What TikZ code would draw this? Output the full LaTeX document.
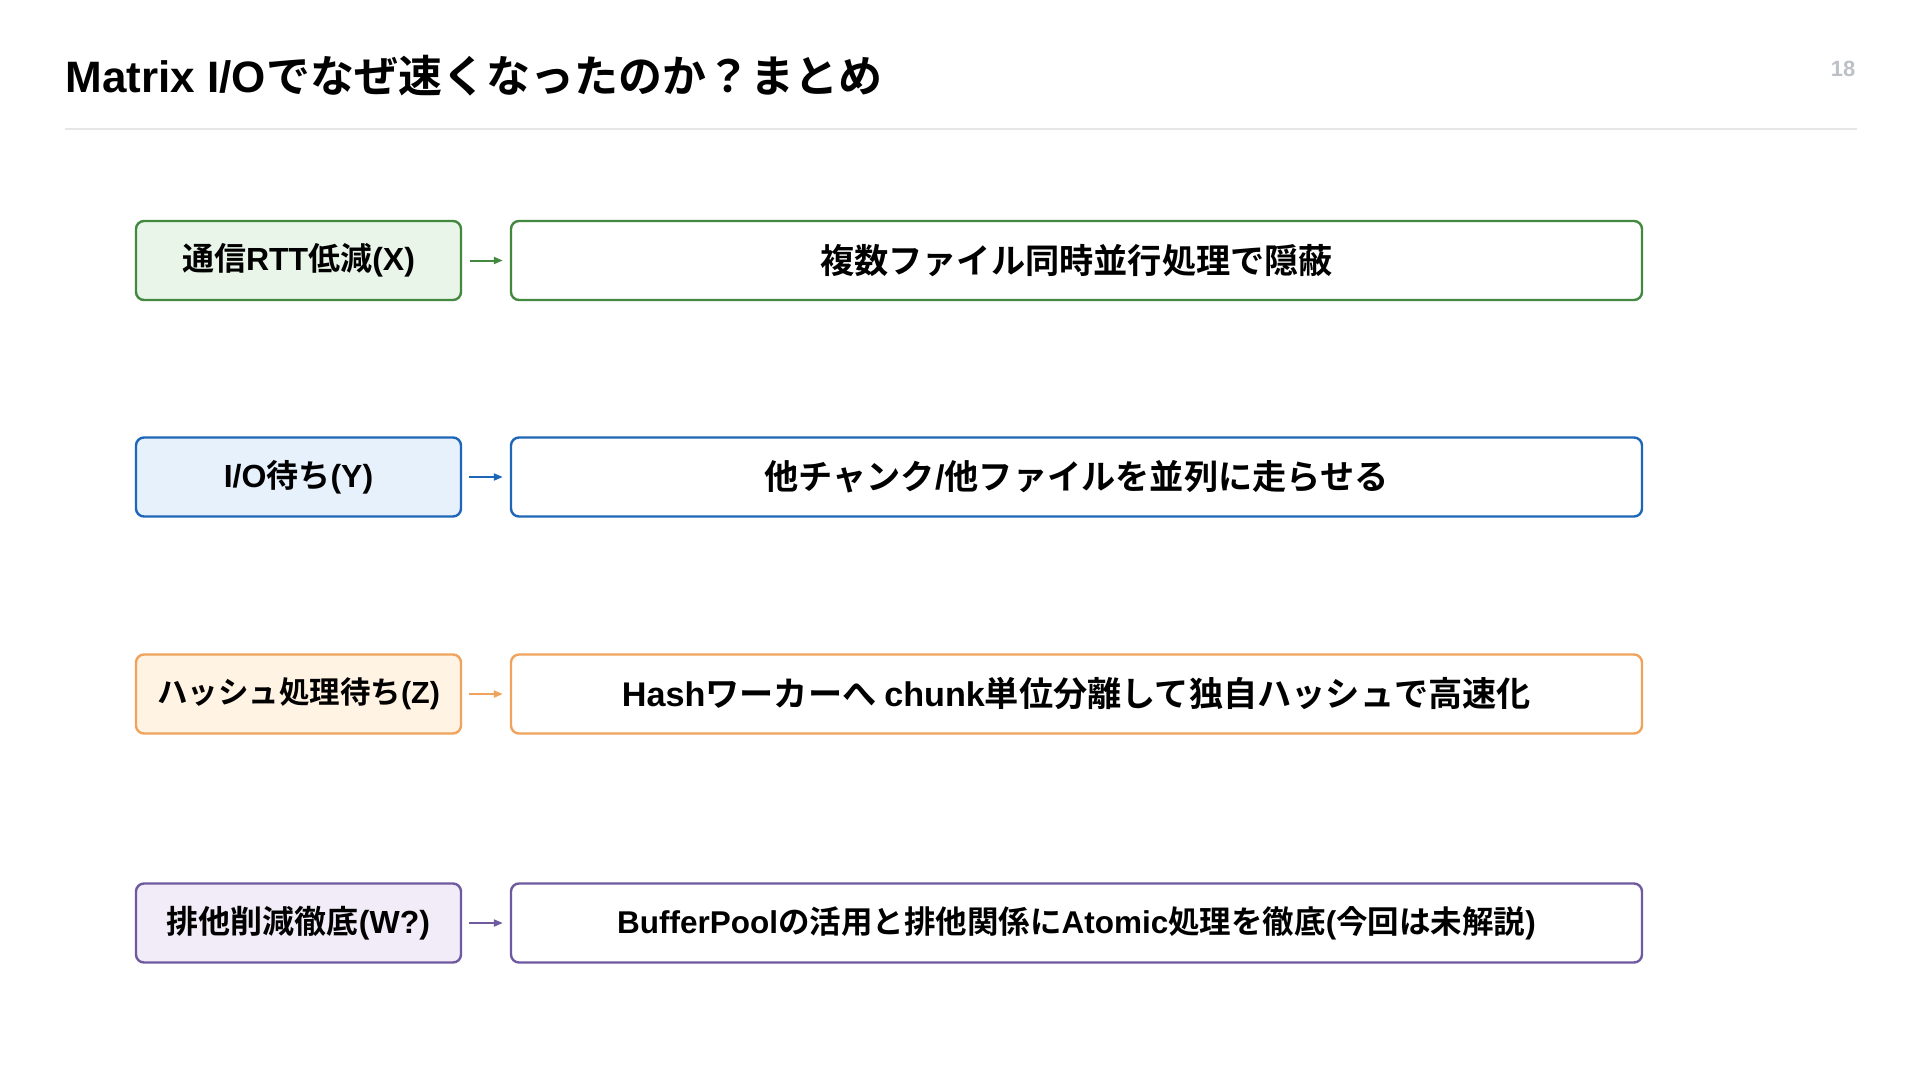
\documentclass[tikz,border=0pt]{standalone}
\usepackage{fontspec}
\setmainfont{Noto Sans CJK JP}[BoldFont={Noto Sans CJK JP Bold}]
\newfontfamily\latf{Liberation Sans}
\newcommand{\lat}[1]{{\latf\bfseries #1}}
\usetikzlibrary{arrows.meta}
\definecolor{gB}{HTML}{43883F}\definecolor{gF}{HTML}{E9F5E9}
\definecolor{bB}{HTML}{1E66B8}\definecolor{bF}{HTML}{E6F1FC}
\definecolor{oB}{HTML}{EFA35C}\definecolor{oF}{HTML}{FFF3E3}
\definecolor{pB}{HTML}{6F5AA0}\definecolor{pF}{HTML}{F1ECF8}
\definecolor{rule}{HTML}{E6E6E6}\definecolor{pnum}{HTML}{BDC1C6}
\begin{document}
\begin{tikzpicture}[x=1pt,y=-1pt,
  catbox/.style={draw=#1,line width=2.4pt,rounded corners=8pt,minimum width=325pt,minimum height=79pt,inner sep=0pt,font=\fontsize{32}{36}\selectfont\bfseries,text=black},
  solbox/.style={draw=#1,fill=white,line width=2.4pt,rounded corners=8pt,minimum width=1131pt,minimum height=79pt,inner sep=0pt,font=\fontsize{34.2}{38}\selectfont\bfseries,text=black},
  conn/.style={draw=#1,line width=2pt,-{Triangle[length=9pt,width=7pt]}}]
\useasboundingbox[fill=white] (0,0) rectangle (1920,1080);
\node[anchor=west,font=\fontsize{44}{50}\selectfont\bfseries] (title) at (62,76) {\lat{Matrix I/O}でなぜ速くなったのか？まとめ};
\node[font=\fontsize{22}{24}\selectfont\bfseries,text=pnum] (pg) at (1843,69) {\lat{18}};
\coordinate (r1) at (65,129); \coordinate (r2) at (1857,129);
\draw[rule,line width=2pt] (r1) -- (r2);

\node[catbox=gB,fill=gF] (c1) at (298.5,260.5) {通信\lat{RTT}低減\lat{(X)}};
\node[solbox=gB] (s1) at (1076.5,260.5) {複数ファイル同時並行処理で隠蔽};

\node[catbox=bB,fill=bF] (c2) at (298.5,477) {\lat{I/O}待ち\lat{(Y)}};
\node[solbox=bB] (s2) at (1076.5,477) {他チャンク\lat{/}他ファイルを並列に走らせる};

\node[catbox=oB,fill=oF,font=\fontsize{30.5}{34}\selectfont\bfseries] (c3) at (298.5,694) {ハッシュ処理待ち\lat{(Z)}};
\node[solbox=oB] (s3) at (1076.5,694) {\lat{Hash}ワーカーへ \lat{chunk}単位分離して独自ハッシュで高速化};

\node[catbox=pB,fill=pF] (c4) at (298.5,923) {排他削減徹底\lat{(W?)}};
\node[solbox=pB,font=\fontsize{31.5}{36}\selectfont\bfseries] (s4) at (1076.5,923) {\lat{BufferPool}の活用と排他関係に\lat{Atomic}処理を徹底\lat{(}今回は未解説\lat{)}};

\draw[conn=gB] ([xshift=8pt]c1.east) -- ([xshift=-7pt]s1.west);
\draw[conn=bB] ([xshift=7pt]c2.east) -- ([xshift=-7pt]s2.west);
\draw[conn=oB] ([xshift=7pt]c3.east) -- ([xshift=-7pt]s3.west);
\draw[conn=pB] ([xshift=7pt]c4.east) -- ([xshift=-7pt]s4.west);
\end{tikzpicture}
\end{document}
